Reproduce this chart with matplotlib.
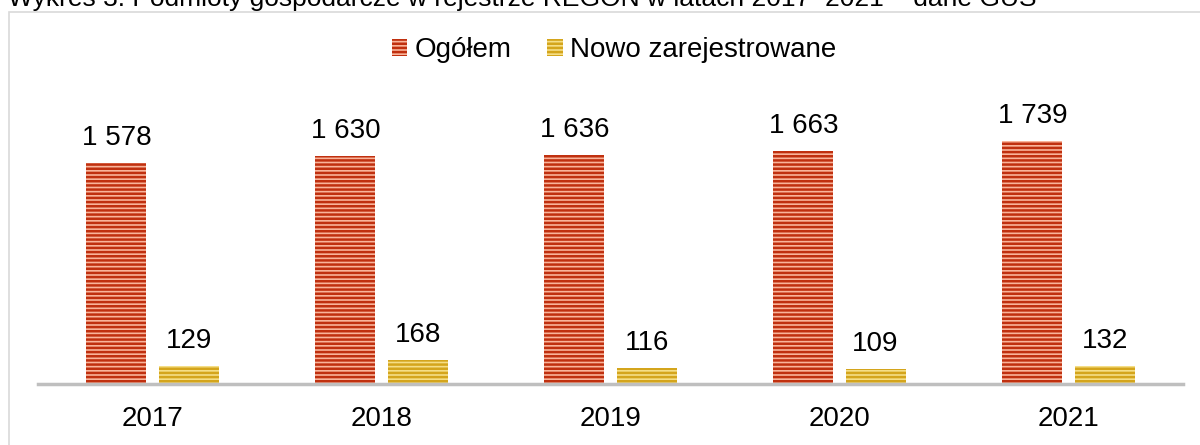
import matplotlib.pyplot as plt
import matplotlib.patches as mpatches
import numpy as np

plt.rcParams['font.family'] = ['Liberation Sans', 'DejaVu Sans']
plt.rcParams['hatch.linewidth'] = 1.8

years = ['2017', '2018', '2019', '2020', '2021']
ogolem = [1578, 1630, 1636, 1663, 1739]
nowe = [129, 168, 116, 109, 132]
labels_ogolem = ['1 578', '1 630', '1 636', '1 663', '1 739']
labels_nowe = ['129', '168', '116', '109', '132']

W, H = 1200, 445
fig = plt.figure(figsize=(12, 4.45), dpi=100)

# ramka wokol wykresu
frame = mpatches.Rectangle((9 / W, -0.05), 1.2, 1 - 12 / H + 0.05,
                           transform=fig.transFigure, fill=False,
                           edgecolor='#D9D9D9', linewidth=1.2)
fig.patches.append(frame)

fig.text(8 / W, 1 - 6 / H,
         'Wykres 3. Podmioty gospodarcze w rejestrze REGON w latach 2017–2021 – dane GUS',
         fontsize=19, va='baseline', ha='left')

ax = fig.add_axes([38 / W, 1 - 384 / H, 1145 / W, 300 / H])
x = np.arange(len(years))
w = 0.2625
gap = 0.0525
b1 = ax.bar(x - gap / 2 - w / 2, ogolem, w, color='#F9B49A', edgecolor='#C0300F',
            hatch='----', linewidth=0, label='Ogółem')
b2 = ax.bar(x + gap / 2 + w / 2, nowe, w, color='#F5DE86', edgecolor='#D4A51C',
            hatch='----', linewidth=0, label='Nowo zarejestrowane')

for xi, v, t in zip(x, ogolem, labels_ogolem):
    ax.annotate(t, (xi - gap / 2 - w / 2, v), xytext=(0, 18), textcoords='offset points',
                ha='center', va='center', fontsize=20)
for xi, v, t in zip(x, nowe, labels_nowe):
    ax.annotate(t, (xi + gap / 2 + w / 2, v), xytext=(0, 18), textcoords='offset points',
                ha='center', va='center', fontsize=20)

ax.set_xlim(-0.5, len(years) - 0.5)
ax.set_ylim(0, 300 / 0.140)
ax.set_xticks(x)
ax.set_xticklabels(years, fontsize=20)
ax.tick_params(axis='x', length=0, pad=16)
ax.set_yticks([])
for s in ['top', 'right', 'left']:
    ax.spines[s].set_visible(False)
ax.spines['bottom'].set_color('#BFBFBF')
ax.spines['bottom'].set_linewidth(2.5)

fig.legend(handles=[b1, b2], loc='center', bbox_to_anchor=(614 / W, 1 - 50 / H),
           ncol=2, frameon=False, fontsize=20, handlelength=0.55, handleheight=0.55,
           handletextpad=0.25, columnspacing=1.3, borderpad=0)

fig.savefig('out.png', dpi=100)
